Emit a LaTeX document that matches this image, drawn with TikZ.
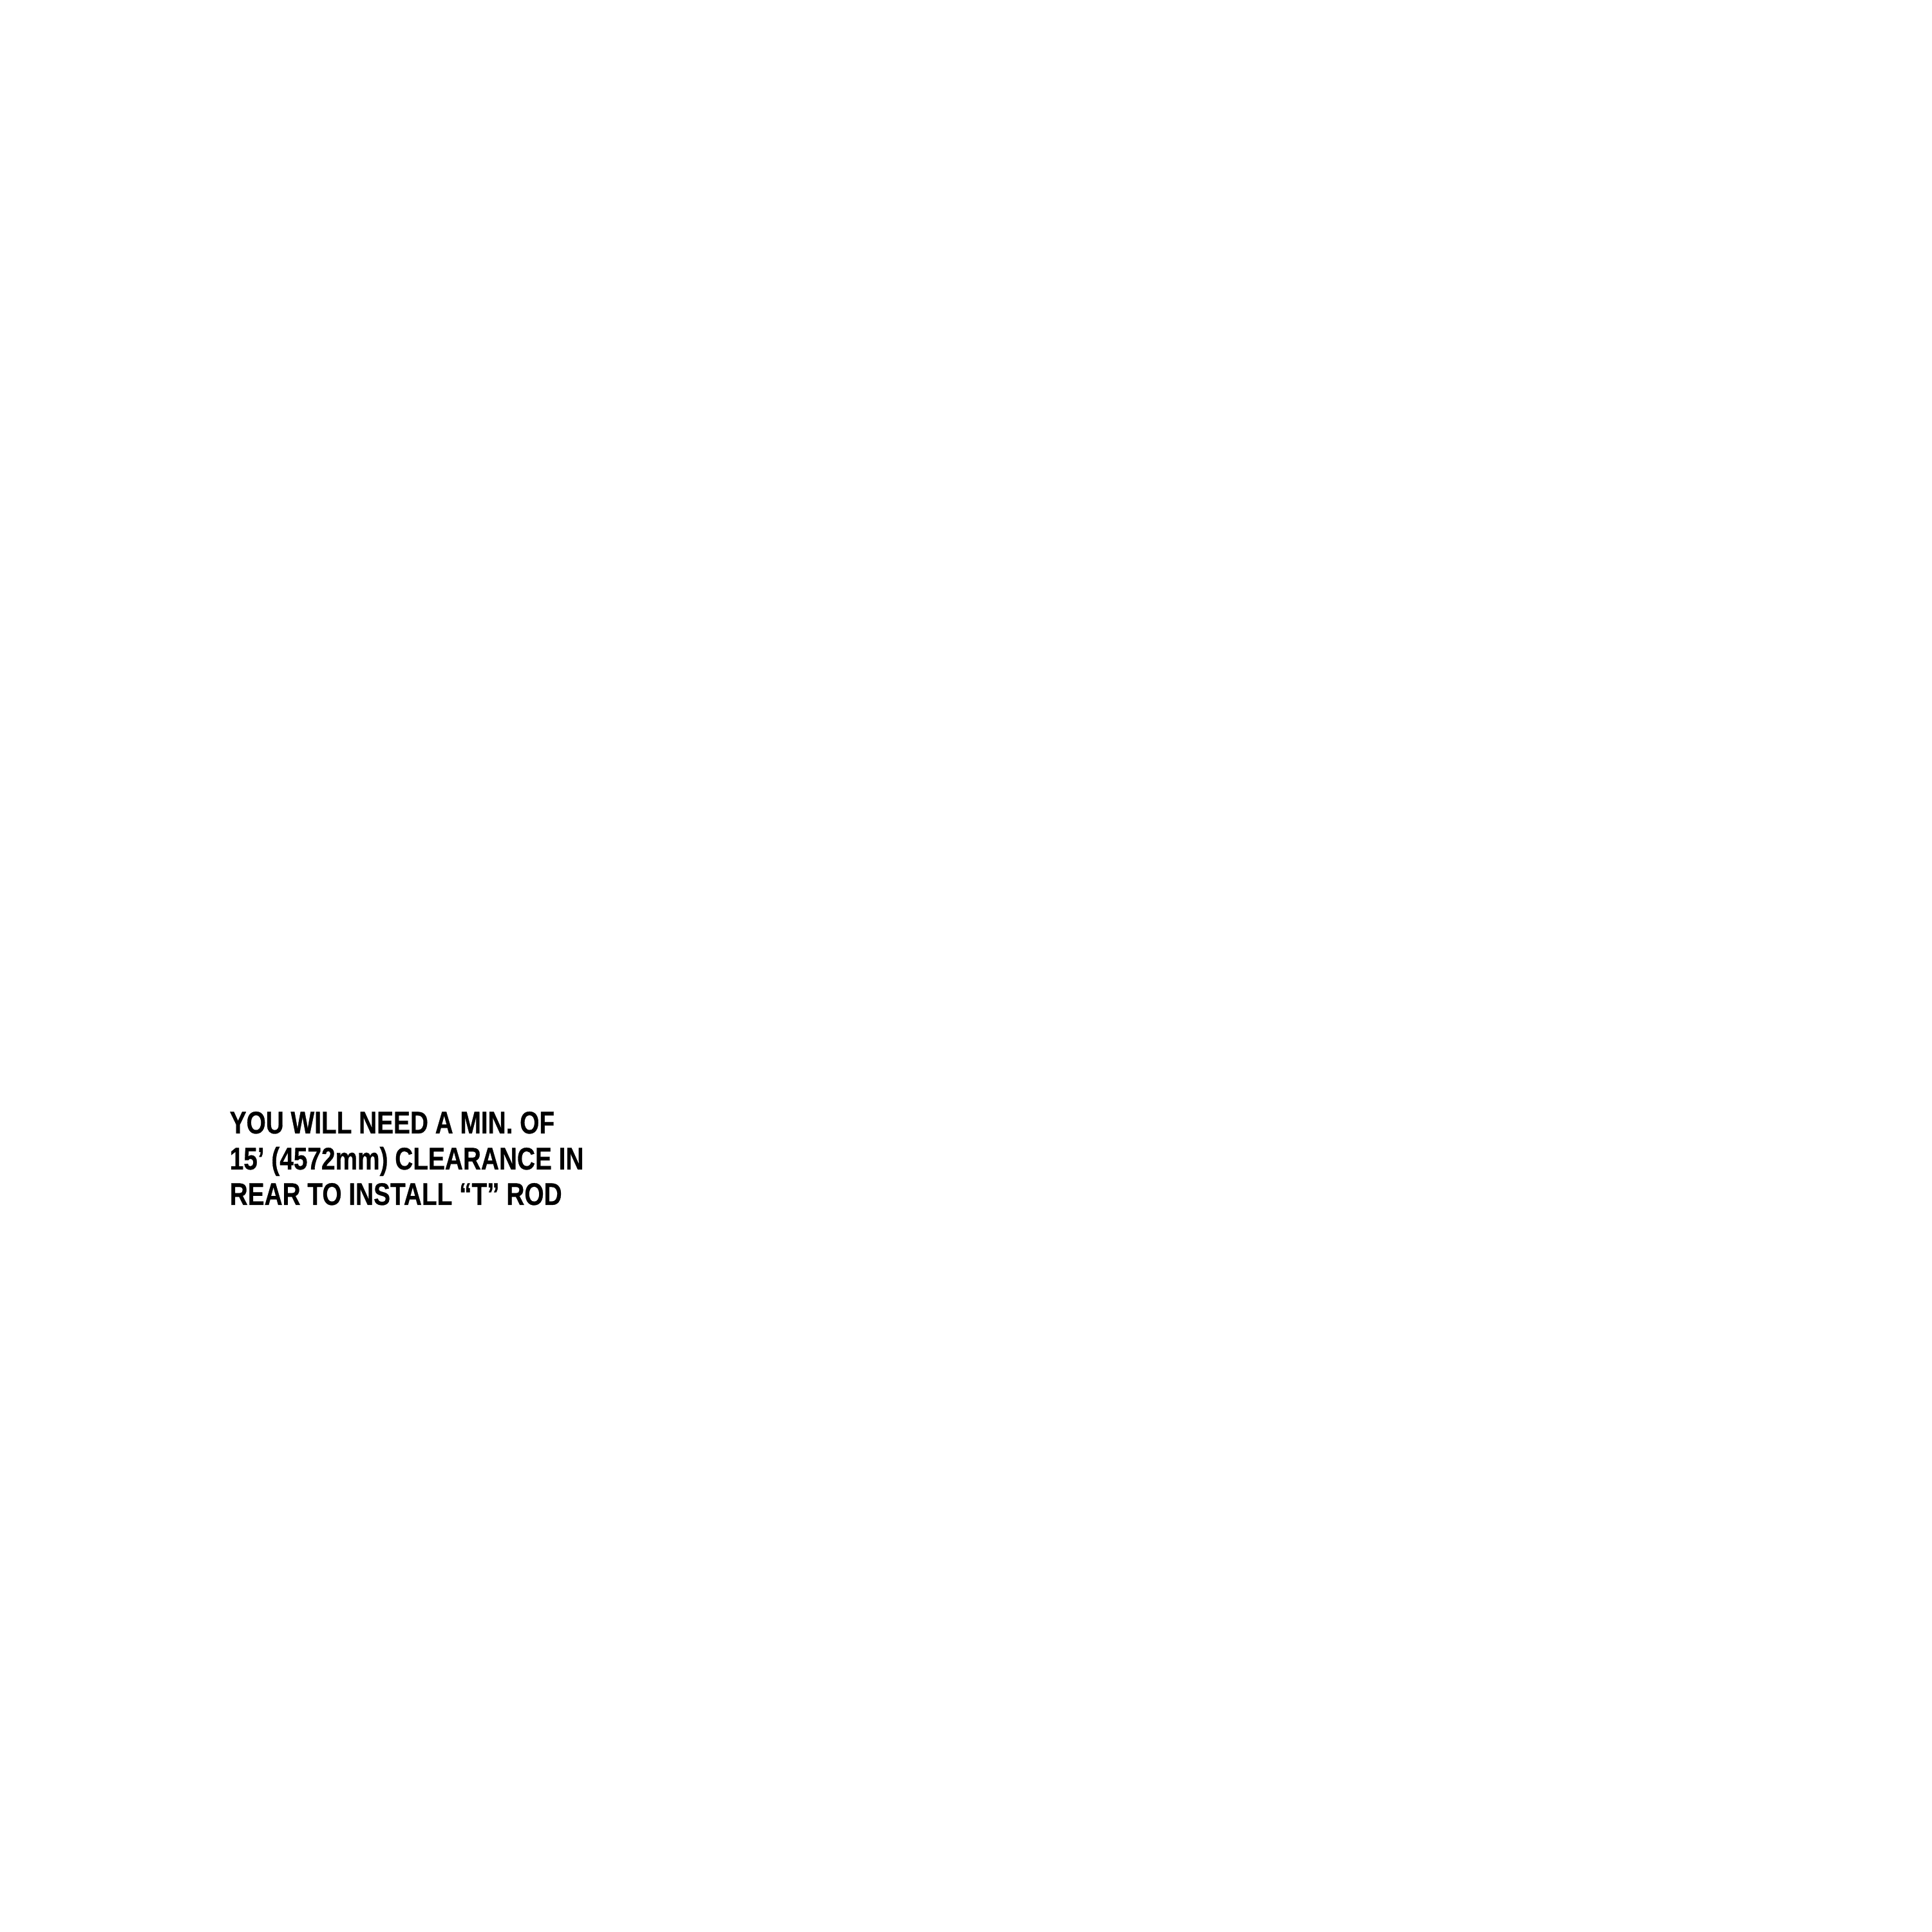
\documentclass[tikz,border=0pt]{standalone}
\usepackage{fontspec}
\newfontfamily\condfont[FakeStretch=0.80,FakeBold=0.6]{Liberation Sans}
\begin{document}
\begin{tikzpicture}
\useasboundingbox (0,0) rectangle (30,30);
\tikzset{note/.style={anchor=base west, inner sep=0pt, font=\condfont\bfseries\fontsize{13.8pt}{16pt}\selectfont, text=black}}
\node[note] (l1) at (3.56,12.40) {YOU WILL NEED A MIN. OF};
\node[note] (l2) at (3.56,11.84) {15’ (4572mm) CLEARANCE IN};
\node[note] (l3) at (3.56,11.29) {REAR TO INSTALL “T” ROD};
\end{tikzpicture}
\end{document}
